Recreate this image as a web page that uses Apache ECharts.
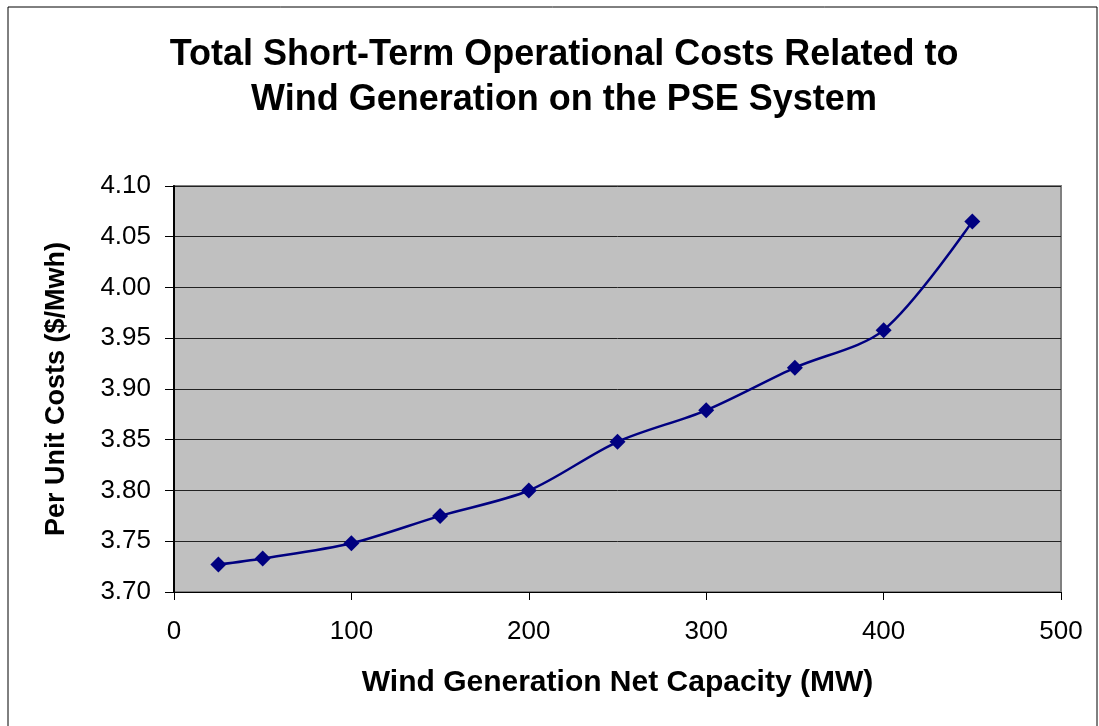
<!DOCTYPE html>
<html>
<head>
<meta charset="utf-8">
<script src="https://cdn.jsdelivr.net/npm/echarts@6/dist/echarts.min.js"></script>
<style>
  html, body { margin: 0; padding: 0; background: #fff; }
  #main { width: 1099px; height: 726px; }
</style>
</head>
<body>
<div id="main"></div>
<script>
// 数据
var capacity = [25, 50, 100, 150, 200, 250, 300, 350, 400, 450];
var costs = [3.727, 3.733, 3.748, 3.775, 3.800, 3.848, 3.879, 3.921, 3.958, 4.065];

var chart = echarts.init(document.getElementById('main'));
var font = 'Arial, "Liberation Sans", sans-serif';

var option = {
    animation: false,
    textStyle: { fontFamily: font },
    title: {
        text: 'Total Short-Term Operational Costs Related to\nWind Generation on the PSE System',
        left: 559,
        top: 28,
        textAlign: 'center',
        textStyle: {
            fontFamily: font,
            fontSize: 36,
            fontWeight: 'bold',
            color: '#000',
            lineHeight: 45
        }
    },
    graphic: [{
        // 外框
        type: 'rect',
        shape: { x: 8, y: 7, width: 1089, height: 740 },
        style: { fill: null, stroke: '#000', lineWidth: 1 },
        silent: true
    }],
    grid: {
        left: 174,
        top: 186,
        right: 38,
        bottom: 134,
        show: true,
        backgroundColor: '#c0c0c0',
        borderColor: '#808080',
        borderWidth: 2
    },
    xAxis: {
        type: 'value',
        min: 0,
        max: 500,
        interval: 100,
        name: 'Wind Generation Net Capacity (MW)',
        nameLocation: 'middle',
        nameGap: 76,
        nameTextStyle: { fontFamily: font, fontSize: 30, fontWeight: 'bold', color: '#000' },
        axisLine: { show: true, lineStyle: { color: '#000', width: 1 } },
        axisTick: { show: true, length: 8, lineStyle: { color: '#000' } },
        axisLabel: { fontFamily: font, fontSize: 26, color: '#000', margin: 27 },
        splitLine: { show: false }
    },
    yAxis: {
        type: 'value',
        min: 3.70,
        max: 4.10,
        interval: 0.05,
        name: 'Per Unit Costs ($/Mwh)',
        nameLocation: 'middle',
        nameGap: 104,
        nameRotate: 90,
        nameTextStyle: { fontFamily: font, fontSize: 27, fontWeight: 'bold', color: '#000' },
        axisLine: { show: true, lineStyle: { color: '#000', width: 2 } },
        axisTick: { show: true, length: 9, lineStyle: { color: '#000' } },
        axisLabel: {
            fontFamily: font, fontSize: 26, color: '#000', margin: 23,
            formatter: function (v) { return v.toFixed(2); }
        },
        splitLine: { show: true, lineStyle: { color: '#222', width: 1 } }
    },
    series: [{
        type: 'line',
        data: capacity.map(function (x, i) { return [x, costs[i]]; }),
        smooth: 0.3,
        symbol: 'diamond',
        symbolSize: 16,
        lineStyle: { color: '#000080', width: 2.5 },
        itemStyle: { color: '#000080' }
    }]
};

chart.setOption(option);
</script>
</body>
</html>
